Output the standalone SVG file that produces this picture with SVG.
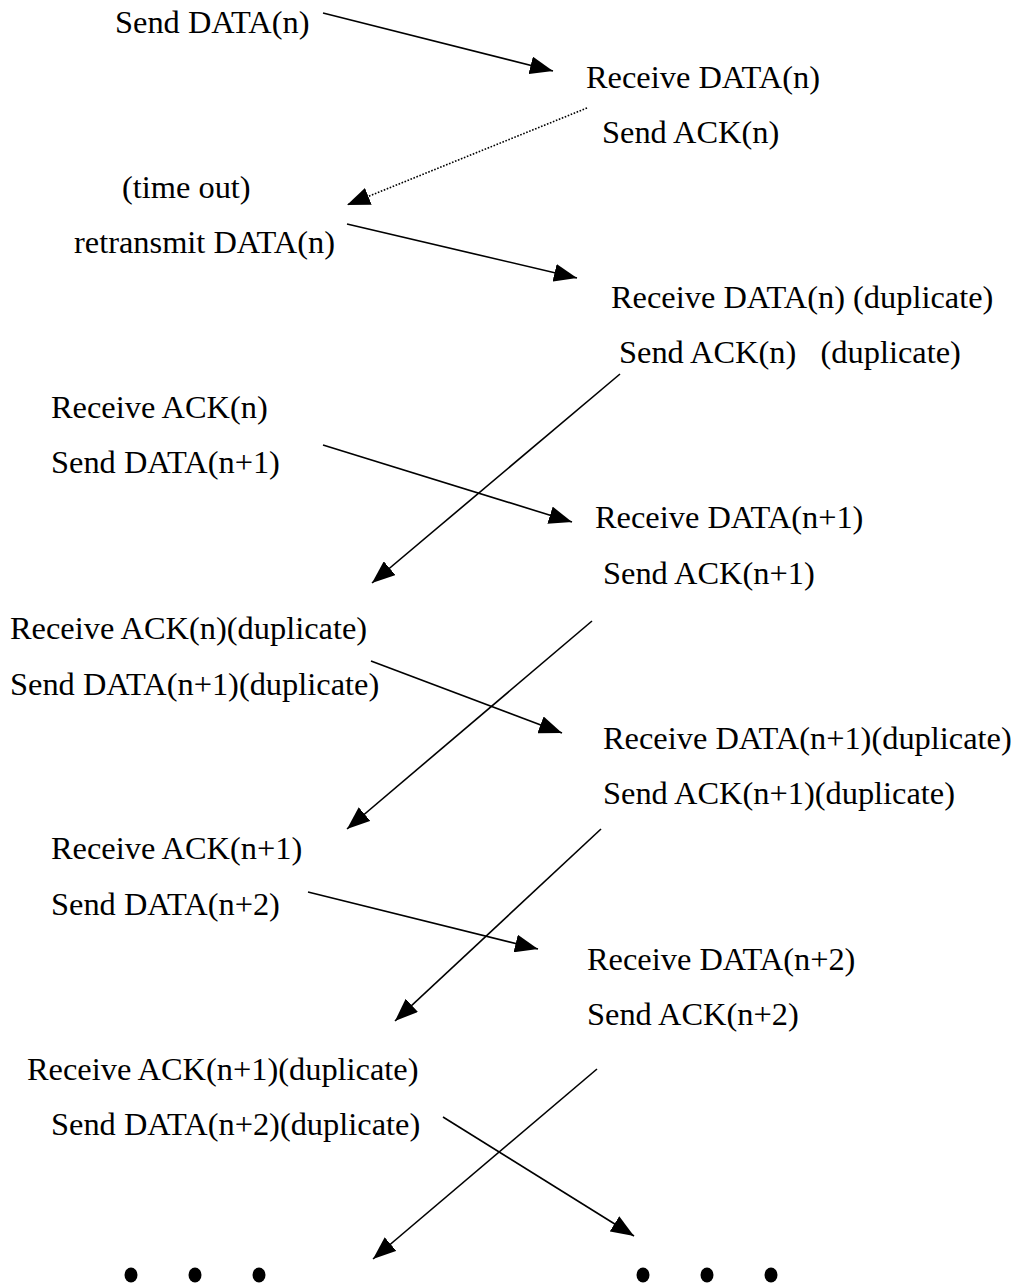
<svg xmlns="http://www.w3.org/2000/svg" width="1020" height="1285" viewBox="0 0 1020 1285">
  <style>
    .lbl { font-family: "Liberation Serif", "Times New Roman", serif; font-size: 32.4px; fill: #000; white-space: pre; }
    .msg { stroke: #000; stroke-width: 1.6; fill: none; marker-end: url(#head); }
    .lost { stroke-dasharray: 1.6 1.6; }
    .dot { fill: #000; }
  </style>
  <defs>
    <marker id="head" markerUnits="userSpaceOnUse" markerWidth="24" markerHeight="18" viewBox="0 0 24 18" refX="23" refY="9" orient="auto">
      <path d="M0,0 L23,9 L0,18 Z" fill="#000"/>
    </marker>
  </defs>

  <rect width="1020" height="1285" fill="#fff"/>

  <!-- sender side -->
  <g id="s-send-n"><text class="lbl" x="115" y="32.5">Send DATA(n)</text></g>
  <g id="s-timeout"><text class="lbl" x="122" y="197.5">(time out)</text></g>
  <g id="s-retransmit"><text class="lbl" x="74" y="252.5">retransmit DATA(n)</text></g>
  <g id="s-recv-ack-n"><text class="lbl" x="51" y="418">Receive ACK(n)</text></g>
  <g id="s-send-n1"><text class="lbl" x="51" y="473">Send DATA(n+1)</text></g>
  <g id="s-recv-ack-n-dup"><text class="lbl" x="10" y="639">Receive ACK(n)(duplicate)</text></g>
  <g id="s-send-n1-dup"><text class="lbl" x="10" y="694.5">Send DATA(n+1)(duplicate)</text></g>
  <g id="s-recv-ack-n1"><text class="lbl" x="51" y="859">Receive ACK(n+1)</text></g>
  <g id="s-send-n2"><text class="lbl" x="51" y="914.5">Send DATA(n+2)</text></g>
  <g id="s-recv-ack-n1-dup"><text class="lbl" x="27" y="1079.5">Receive ACK(n+1)(duplicate)</text></g>
  <g id="s-send-n2-dup"><text class="lbl" x="51" y="1134.5">Send DATA(n+2)(duplicate)</text></g>

  <!-- receiver side -->
  <g id="r-recv-n"><text class="lbl" x="586" y="87.5">Receive DATA(n)</text></g>
  <g id="r-ack-n"><text class="lbl" x="602" y="142.5">Send ACK(n)</text></g>
  <g id="r-recv-n-dup"><text class="lbl" x="611" y="307.5">Receive DATA(n) (duplicate)</text></g>
  <g id="r-ack-n-dup"><text class="lbl" x="619" y="363">Send ACK(n)   (duplicate)</text></g>
  <g id="r-recv-n1"><text class="lbl" x="595" y="528">Receive DATA(n+1)</text></g>
  <g id="r-ack-n1"><text class="lbl" x="603" y="583.5">Send ACK(n+1)</text></g>
  <g id="r-recv-n1-dup"><text class="lbl" x="603" y="749">Receive DATA(n+1)(duplicate)</text></g>
  <g id="r-ack-n1-dup"><text class="lbl" x="603" y="804">Send ACK(n+1)(duplicate)</text></g>
  <g id="r-recv-n2"><text class="lbl" x="587" y="969.5">Receive DATA(n+2)</text></g>
  <g id="r-ack-n2"><text class="lbl" x="587" y="1024.5">Send ACK(n+2)</text></g>

  <!-- continuation marks -->
  <g id="more-left">
    <ellipse class="dot" cx="131" cy="1275" rx="6.5" ry="7.5"/>
    <ellipse class="dot" cx="195" cy="1275" rx="6.5" ry="7.5"/>
    <ellipse class="dot" cx="259" cy="1275" rx="6.5" ry="7.5"/>
  </g>
  <g id="more-right">
    <ellipse class="dot" cx="643" cy="1275" rx="6.5" ry="7.5"/>
    <ellipse class="dot" cx="707" cy="1275" rx="6.5" ry="7.5"/>
    <ellipse class="dot" cx="771" cy="1275" rx="6.5" ry="7.5"/>
  </g>

  <!-- messages -->
  <g id="connectors">
    <line class="msg" x1="323" y1="13" x2="553" y2="71"/>
    <line class="msg lost" x1="587" y1="108" x2="347" y2="205"/>
    <line class="msg" x1="347" y1="224" x2="577" y2="278"/>
    <line class="msg" x1="620" y1="374" x2="372" y2="583"/>
    <line class="msg" x1="323" y1="445" x2="572" y2="522"/>
    <line class="msg" x1="592" y1="621" x2="347" y2="829"/>
    <line class="msg" x1="371" y1="661" x2="562" y2="733"/>
    <line class="msg" x1="601" y1="829" x2="395" y2="1021"/>
    <line class="msg" x1="308" y1="892" x2="538" y2="949"/>
    <line class="msg" x1="597" y1="1069" x2="373" y2="1259"/>
    <line class="msg" x1="443" y1="1117" x2="634" y2="1236"/>
  </g>
</svg>
